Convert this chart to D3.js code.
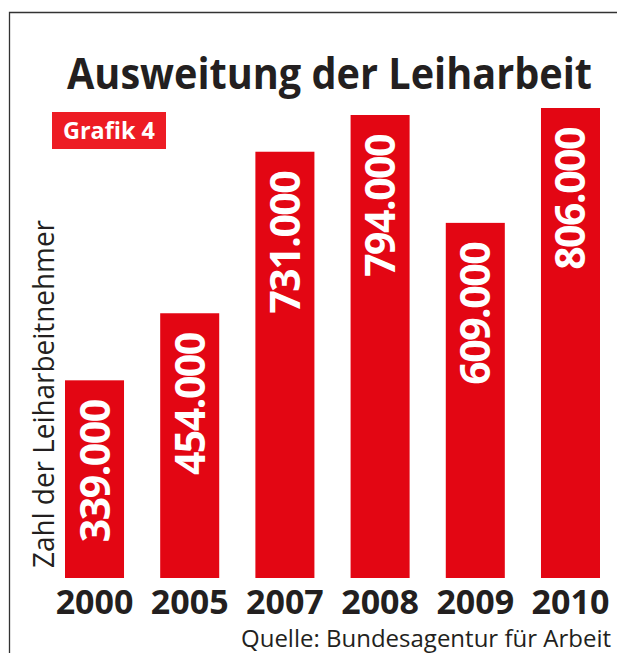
<!DOCTYPE html>
<html>
<head>
<meta charset="utf-8">
<script src="https://cdn.jsdelivr.net/npm/d3@7"></script>
<style>
  body { margin: 0; background: #fff; }
  text { font-family: "Open Sans", sans-serif; }
</style>
</head>
<body>
<div id="chart"></div>
<script>
var years = ["2000", "2005", "2007", "2008", "2009", "2010"];
var workers = [339000, 454000, 731000, 794000, 609000, 806000];
var valueLabels = ["339.000", "454.000", "731.000", "794.000", "609.000", "806.000"];

var svgWidth = 617;
var svgHeight = 653;

var svg = d3.select("#chart")
  .append("svg")
  .attr("width", svgWidth)
  .attr("height", svgHeight);

var ink = "#231f20";

// fit a text element to a given width by changing its font size
function fitWidth(sel, target) {
  var size = +sel.attr("font-size");
  var w = sel.node().getComputedTextLength();
  sel.attr("font-size", size * target / w);
}

// frame (top and left only)
svg.append("path")
  .attr("d", "M9.5,653V12.5H617")
  .attr("fill", "none")
  .attr("stroke", "#333")
  .attr("stroke-width", 1.3);

// title
var title = svg.append("text")
  .attr("x", 67)
  .attr("y", 89)
  .attr("font-size", 43)
  .attr("font-weight", 700)
  .attr("fill", ink)
  .attr("textLength", 525)
  .attr("lengthAdjust", "spacingAndGlyphs")
  .text("Ausweitung der Leiharbeit");

// Grafik 4 tag
svg.append("rect")
  .attr("x", 52)
  .attr("y", 112)
  .attr("width", 114)
  .attr("height", 37)
  .attr("fill", "#ed1c24");

svg.append("text")
  .attr("x", 63)
  .attr("y", 139)
  .attr("font-size", 23)
  .attr("font-weight", 700)
  .attr("fill", "#fff")
  .attr("textLength", 92)
  .attr("lengthAdjust", "spacingAndGlyphs")
  .text("Grafik 4");

// scales
var xScale = d3.scaleBand()
  .domain(years)
  .range([65, 600])
  .paddingInner(0.38)
  .paddingOuter(0);

var yScale = d3.scaleLinear()
  .domain([0, d3.max(workers)])
  .range([578, 108]);

var data = years.map(function(y, i) {
  return { year: y, value: workers[i], label: valueLabels[i] };
});

// bars
svg.selectAll(".bar")
  .data(data)
  .enter()
  .append("rect")
  .attr("class", "bar")
  .attr("x", d => xScale(d.year))
  .attr("y", d => yScale(d.value))
  .attr("width", xScale.bandwidth())
  .attr("height", d => yScale(0) - yScale(d.value))
  .attr("fill", "#e30613");

// value labels inside bars, rotated
svg.selectAll(".val")
  .data(data)
  .enter()
  .append("text")
  .attr("class", "val")
  .attr("transform", d => `translate(${xScale(d.year) + xScale.bandwidth() / 2 + 15}, ${yScale(d.value) + 20}) rotate(-90)`)
  .attr("text-anchor", "end")
  .attr("font-size", 41)
  .attr("font-weight", 700)
  .attr("letter-spacing", "-1.5px")
  .attr("fill", "#fff")
  .text(d => d.label);

// x axis (years)
var xAxis = d3.axisBottom(xScale).tickSize(0).tickPadding(0);
var axisG = svg.append("g")
  .attr("transform", "translate(0, 578)")
  .call(xAxis);
axisG.select(".domain").remove();
axisG.selectAll("text")
  .attr("dy", null)
  .attr("y", 36)
  .attr("font-family", "Open Sans, sans-serif")
  .attr("font-size", 34)
  .attr("font-weight", 700)
  .attr("fill", ink);

// y axis title
svg.append("text")
  .attr("transform", "translate(54, 568) rotate(-90)")
  .attr("font-size", 29)
  .attr("font-weight", 500)
  .attr("fill", ink)
  .attr("textLength", 348)
  .attr("lengthAdjust", "spacingAndGlyphs")
  .text("Zahl der Leiharbeitnehmer");

// source
svg.append("text")
  .attr("x", 241)
  .attr("y", 647)
  .attr("font-size", 23)
  .attr("fill", ink)
  .attr("textLength", 370)
  .attr("lengthAdjust", "spacingAndGlyphs")
  .text("Quelle: Bundesagentur für Arbeit");
</script>
</body>
</html>
